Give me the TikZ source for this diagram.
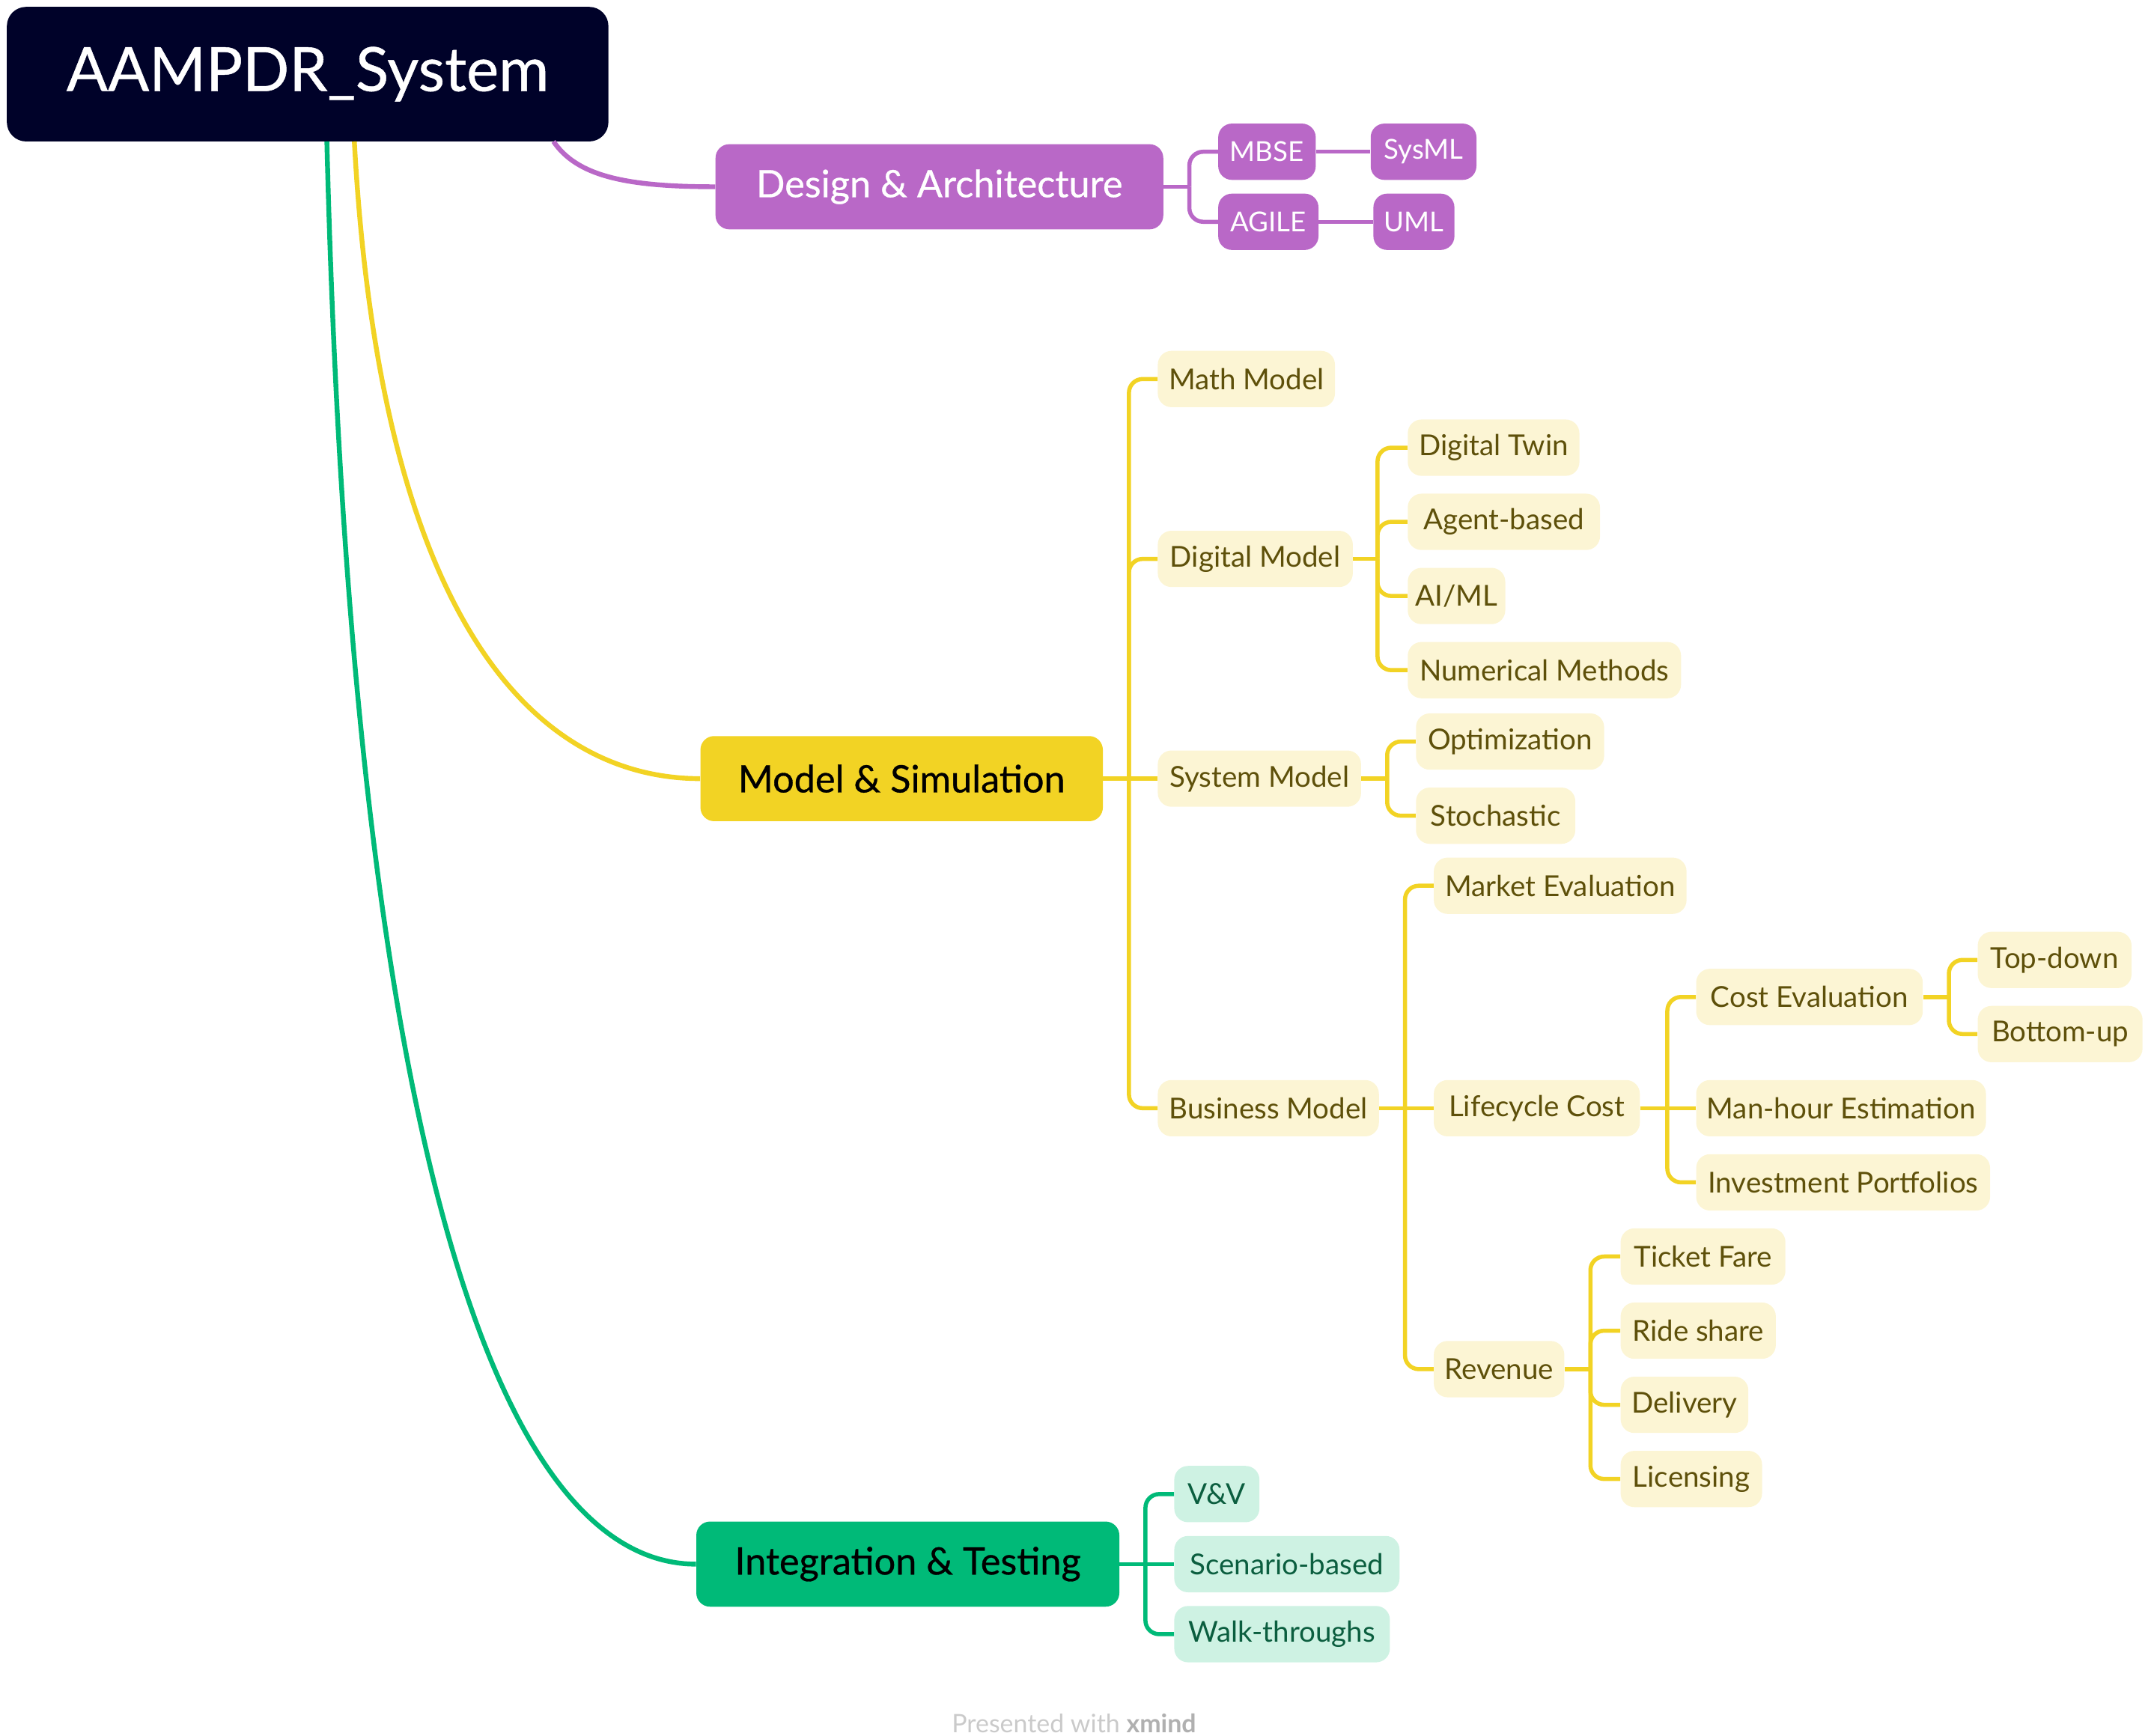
\documentclass[tikz,border=0pt]{standalone}
\usepackage{fontspec}
\setmainfont{Lato}
\newfontfamily\medfont[FakeBold=0.6]{Lato}
\begin{document}
\begin{tikzpicture}[x=1pt,y=-1pt,
  box/.style={rounded corners=10, inner sep=0pt, align=center},
  rootbox/.style={box, fill=navy, text=white, minimum height=98, rounded corners=14, font=\medfont\fontsize{44.5}{50}\selectfont},
  mainP/.style={box, fill=purp, text=white, minimum height=62, font=\medfont\fontsize{27.5}{31}\selectfont},
  mainY/.style={box, fill=yel, text=black, minimum height=62, font=\medfont\fontsize{27.5}{31}\selectfont},
  mainG/.style={box, fill=grn, text=black, minimum height=62, font=\medfont\fontsize{27.5}{31}\selectfont},
  leafP/.style={box, fill=purp, text=white, minimum height=41, font=\fontsize{20}{24}\selectfont},
  leafY/.style={box, fill=yelL, text=yelT, minimum height=41, font=\fontsize{21}{25}\selectfont},
  leafG/.style={box, fill=grnL, text=grnT, minimum height=41, font=\fontsize{21}{25}\selectfont},
  pline/.style={draw=purp, line width=3},
  yline/.style={draw=yel, line width=3},
  gline/.style={draw=grn, line width=3},
  elbow/.style={rounded corners=10}
]
\definecolor{navy}{HTML}{000229}
\definecolor{purp}{HTML}{B968C7}
\definecolor{yel}{HTML}{F2D324}
\definecolor{yelL}{HTML}{FCF5D4}
\definecolor{yelT}{HTML}{5E500A}
\definecolor{grn}{HTML}{00BA78}
\definecolor{grnL}{HTML}{CEF2E3}
\definecolor{grnT}{HTML}{0B5E3F}
\definecolor{foot}{HTML}{CACACA}
\definecolor{footB}{HTML}{B0B0B0}
\useasboundingbox (0,0) rectangle (1564,1264);

% main nodes
\node[rootbox, minimum width=438] (root) at (224,54) {AAMPDR\_System};
\node[mainP, minimum width=326] (da) at (684,136) {Design \& Architecture};
\node[mainY, minimum width=293] (ms) at (656.5,567) {Model \& Simulation};
\node[mainG, minimum width=308] (it) at (661,1139) {Integration \& Testing};

% main curves
\coordinate (rP) at (403,103);
\coordinate (rY) at (258,103);
\coordinate (rG) at (238,103);
\draw[pline, line width=3.5] (rP) .. controls (420,128) and (455,136) .. (da.west);
\draw[yline, line width=3.5] (rY) .. controls (278,470) and (400,567) .. (ms.west);
\draw[gline, line width=3.5] (rG) .. controls (258,900) and (380,1139) .. (it.west);

% design children
\node[leafP, minimum width=71] (mbse) at (922.5,110.5) {MBSE};
\node[leafP, minimum width=77] (sysml) at (1036.5,110.5) {SysML};
\node[leafP, minimum width=73] (agile) at (923.5,161.5) {AGILE};
\node[leafP, minimum width=59] (uml) at (1029.5,161.5) {UML};
\coordinate (jDA) at (866,136);
\draw[pline] (da.east) -- (jDA);
\draw[pline, elbow] (jDA) |- (mbse.west);
\draw[pline, elbow] (jDA) |- (agile.west);
\draw[pline] (mbse.east) -- (sysml.west);
\draw[pline] (agile.east) -- (uml.west);

% model & simulation children
\node[leafY, minimum width=129] (math) at (907.5,276) {Math Model};
\node[leafY, minimum width=142] (dm) at (914,407) {Digital Model};
\node[leafY, minimum width=148] (sm) at (917,567) {System Model};
\node[leafY, minimum width=161] (bm) at (923.5,807) {Business Model};
\coordinate (jMS) at (822,567);
\draw[yline] (ms.east) -- (sm.west);
\draw[yline, elbow] (jMS) |- (math.west);
\draw[yline, elbow] (jMS) |- (dm.west);
\draw[yline, elbow] (jMS) |- (bm.west);

% digital model children
\node[leafY, minimum width=125] (dt) at (1087.5,326) {Digital Twin};
\node[leafY, minimum width=140] (ab) at (1095,380) {Agent-based};
\node[leafY, minimum width=71] (aiml) at (1060.5,434) {AI/ML};
\node[leafY, minimum width=199] (nm) at (1124.5,488) {Numerical Methods};
\coordinate (jDM) at (1003,407);
\draw[yline] (dm.east) -- (jDM);
\draw[yline, elbow] (jDM) |- (dt.west);
\draw[yline, elbow] (jDM) |- (ab.west);
\draw[yline, elbow] (jDM) |- (aiml.west);
\draw[yline, elbow] (jDM) |- (nm.west);

% system model children
\node[leafY, minimum width=137] (opt) at (1099.5,540) {Optimization};
\node[leafY, minimum width=116] (sto) at (1089,594) {Stochastic};
\coordinate (jSM) at (1010,567);
\draw[yline] (sm.east) -- (jSM);
\draw[yline, elbow] (jSM) |- (opt.west);
\draw[yline, elbow] (jSM) |- (sto.west);

% business model children
\node[leafY, minimum width=184] (me) at (1136,645) {Market Evaluation};
\node[leafY, minimum width=150] (lc) at (1119,807) {Lifecycle Cost};
\node[leafY, minimum width=95] (rev) at (1091.5,997) {Revenue};
\coordinate (jBM) at (1023,807);
\draw[yline] (bm.east) -- (lc.west);
\draw[yline, elbow] (jBM) |- (me.west);
\draw[yline, elbow] (jBM) |- (rev.west);

% lifecycle cost children
\node[leafY, minimum width=165] (ce) at (1317.5,726) {Cost Evaluation};
\node[leafY, minimum width=211] (mh) at (1340.5,807) {Man-hour Estimation};
\node[leafY, minimum width=214] (ip) at (1342,861) {Investment Portfolios};
\coordinate (jLC) at (1214,807);
\draw[yline] (lc.east) -- (mh.west);
\draw[yline, elbow] (jLC) |- (ce.west);
\draw[yline, elbow] (jLC) |- (ip.west);

% cost evaluation children
\node[leafY, minimum width=112] (td) at (1496,699) {Top-down};
\node[leafY, minimum width=120] (bu) at (1500,753) {Bottom-up};
\coordinate (jCE) at (1419,726);
\draw[yline] (ce.east) -- (jCE);
\draw[yline, elbow] (jCE) |- (td.west);
\draw[yline, elbow] (jCE) |- (bu.west);

% revenue children
\node[leafY, minimum width=120] (tf) at (1240,915) {Ticket Fare};
\node[leafY, minimum width=113] (rs) at (1236.5,969) {Ride share};
\node[leafY, minimum width=93] (del) at (1226.5,1023) {Delivery};
\node[leafY, minimum width=103] (lic) at (1231.5,1077) {Licensing};
\coordinate (jRV) at (1158,997);
\draw[yline] (rev.east) -- (jRV);
\draw[yline, elbow] (jRV) |- (tf.west);
\draw[yline, elbow] (jRV) |- (rs.west);
\draw[yline, elbow] (jRV) |- (del.west);
\draw[yline, elbow] (jRV) |- (lic.west);

% integration children
\node[leafG, minimum width=62] (vv) at (886,1088) {V\&V};
\node[leafG, minimum width=164] (sb) at (937,1139) {Scenario-based};
\node[leafG, minimum width=157] (wt) at (933.5,1190) {Walk-throughs};
\coordinate (jIT) at (834,1139);
\draw[gline] (it.east) -- (sb.west);
\draw[gline, elbow] (jIT) |- (vv.west);
\draw[gline, elbow] (jIT) |- (wt.west);

% footer
\node[text=foot, font=\fontsize{18.5}{22}\selectfont, inner sep=0pt] (footer) at (782,1255) {Presented with \textcolor{footB}{\textbf{xmind}}};
\end{tikzpicture}
\end{document}
